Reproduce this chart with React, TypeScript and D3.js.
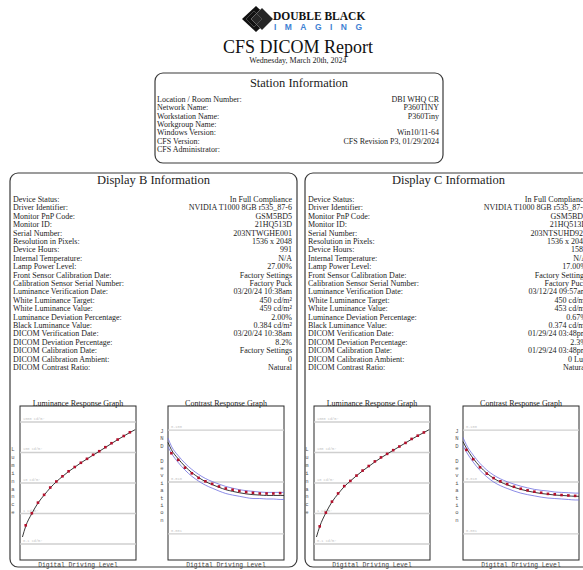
import React from 'react';
import * as d3 from 'd3';

const W = 583;
const H = 570;

const stationLabels = ['Location / Room Number:', 'Network Name:', 'Workstation Name:', 'Workgroup Name:', 'Windows Version:', 'CFS Version:', 'CFS Administrator:'];
const stationValues = ['DBI WHQ CR', 'P360TINY', 'P360Tiny', '', 'Win10/11-64', 'CFS Revision P3, 01/29/2024', ''];

const displayLabels = [
  'Device Status:', 'Driver Identifier:', 'Monitor PnP Code:', 'Monitor ID:', 'Serial Number:',
  'Resolution in Pixels:', 'Device Hours:', 'Internal Temperature:', 'Lamp Power Level:',
  'Front Sensor Calibration Date:', 'Calibration Sensor Serial Number:', 'Luminance Verification Date:',
  'White Luminance Target:', 'White Luminance Value:', 'Luminance Deviation Percentage:',
  'Black Luminance Value:', 'DICOM Verification Date:', 'DICOM Deviation Percentage:',
  'DICOM Calibration Date:', 'DICOM Calibration Ambient:', 'DICOM Contrast Ratio:'
];
const displayBValues = [
  'In Full Compliance', 'NVIDIA T1000 8GB r535_87-6', 'GSM5BD5', '21HQ513D', '203NTWGHE001',
  '1536 x 2048', '991', 'N/A', '27.00%', 'Factory Settings', 'Factory Puck', '03/20/24 10:38am',
  '450 cd/m²', '459 cd/m²', '2.00%', '0.384 cd/m²', '03/20/24 10:38am', '8.2%',
  'Factory Settings', '0', 'Natural'
];
const displayCValues = [
  'In Full Compliance', 'NVIDIA T1000 8GB r535_87-6', 'GSM5BD5', '21HQ513D', '203NTSUHD921',
  '1536 x 2048', '1581', 'N/A', '17.00%', 'Factory Settings', 'Factory Puck', '03/12/24 09:57am',
  '450 cd/m²', '453 cd/m²', '0.67%', '0.374 cd/m²', '01/29/24 03:48pm', '2.3%',
  '01/29/24 03:48pm', '0 Lux', 'Natural'
];

// Luminance response (cd/m²) at digital driving levels
const lumDDL = [0, 15, 30, 45, 60, 75, 90, 105, 120, 135, 150, 165, 180, 195, 210, 225, 240, 255];
const lumMeasuredB = [0.41, 1.02, 2.27, 4.1, 7.1, 11.2, 16.6, 24.2, 33.4, 46, 62, 84, 110, 149, 201, 265, 347, 459];
const lumMeasuredC = [0.38, 1.07, 2.45, 4.56, 7.9, 11.7, 17.5, 25.5, 36, 51, 69, 90, 119, 157, 206, 278, 355, 453];
// target curve (slightly extended at both ends)
const lumTargetDDL = [-8, 0, 15, 30, 45, 60, 75, 90, 105, 120, 135, 150, 165, 180, 195, 210, 225, 240, 255, 268];
const lumTargetB = [0.17, 0.384, 1.0, 2.2, 4.0, 6.9, 11.0, 16.4, 23.8, 33.0, 45.5, 61.5, 82, 109, 146, 197, 262, 345, 450, 560];
const lumTargetC = [0.17, 0.374, 1.05, 2.4, 4.4, 7.6, 11.6, 17.3, 25, 35, 49, 67, 89, 118, 156, 205, 272, 352, 450, 560];
const lumGridValues = [1000, 100, 10, 1, 0.1];
const lumGridLabels = ['1000 cd/m²', '100 cd/m²', '10 cd/m²', '1 cd/m²', '0.1 cd/m²'];

// Contrast response (JND deviation) at interval midpoints
const conDDL = [7.5, 22.5, 37.5, 52.5, 67.5, 82.5, 97.5, 112.5, 127.5, 142.5, 157.5, 172.5, 187.5, 202.5, 217.5, 232.5, 247.5];
const conMeasuredB = [0.0359, 0.0267, 0.0189, 0.0147, 0.0120, 0.0103, 0.0092, 0.0082, 0.0075, 0.0071, 0.0067, 0.0064, 0.0062, 0.0060, 0.0060, 0.0060, 0.0061];
const conMeasuredC = [0.0416, 0.0275, 0.0192, 0.0145, 0.0119, 0.0103, 0.0091, 0.0081, 0.0074, 0.0069, 0.0065, 0.0062, 0.0059, 0.0058, 0.0056, 0.0055, 0.0054];
// target and tolerance curves, spanning the full axis
const conLineDDL = [0, 7.5, 22.5, 37.5, 52.5, 67.5, 82.5, 97.5, 112.5, 127.5, 142.5, 157.5, 172.5, 187.5, 202.5, 217.5, 232.5, 247.5, 256];
const conTargetB = [0.058, 0.042, 0.0280, 0.0200, 0.0152, 0.0122, 0.0102, 0.0089, 0.0079, 0.0071, 0.0066, 0.0062, 0.0059, 0.0057, 0.0056, 0.0055, 0.0055, 0.0055, 0.0055];
const conUpperB = [0.070, 0.049, 0.0322, 0.0230, 0.0175, 0.0140, 0.0117, 0.0102, 0.0091, 0.0082, 0.0076, 0.0071, 0.0068, 0.0066, 0.0064, 0.0063, 0.0063, 0.0063, 0.0063];
const conLowerB = [0.048, 0.036, 0.0238, 0.0170, 0.0129, 0.0104, 0.0087, 0.0076, 0.0067, 0.0060, 0.0056, 0.0053, 0.0050, 0.0048, 0.0048, 0.0047, 0.0047, 0.0046, 0.0046];
const conTargetC = [0.060, 0.045, 0.0285, 0.0198, 0.0148, 0.0118, 0.0100, 0.0088, 0.0079, 0.0072, 0.0067, 0.0063, 0.0060, 0.0058, 0.0056, 0.0055, 0.0054, 0.0053, 0.0053];
const conUpperC = [0.072, 0.052, 0.0330, 0.0228, 0.0170, 0.0136, 0.0115, 0.0101, 0.0091, 0.0083, 0.0077, 0.0072, 0.0069, 0.0067, 0.0064, 0.0063, 0.0062, 0.0061, 0.0061];
const conLowerC = [0.050, 0.038, 0.0242, 0.0168, 0.0126, 0.0100, 0.0085, 0.0075, 0.0067, 0.0061, 0.0057, 0.0054, 0.0051, 0.0049, 0.0048, 0.0047, 0.0046, 0.0045, 0.0045];
const conGridValues = [0.1, 0.01, 0.001];
const conGridLabels = ['0.100', '0.010', '0.001'];

const SERIF = '"Liberation Serif", "Times New Roman", serif';
const MONO = '"Liberation Mono", "DejaVu Sans Mono", monospace';
const SANS = '"Liberation Sans", Arial, sans-serif';
const TXT = '#1c1c1c';

function VerticalLabel({ x, y0, step, text }: { x: number; y0: number; step: number; text: string }) {
  return (
    <g>
      {text.split('').map((ch, i) => (
        <text key={i} x={x} y={y0 + i * step} fontFamily={MONO} fontSize={5.5} fill="#555" textAnchor="middle">{ch}</text>
      ))}
    </g>
  );
}

function LumChart({ x0, y0, w, h, measured, target }: any) {
  const x = d3.scaleLinear().domain([-14, 270]).range([x0, x0 + w]);
  const y = d3.scaleLog().domain([0.03, 3333]).range([y0 + h, y0]);
  const line = d3.line<number>().x((_, i) => x(lumTargetDDL[i])).y(d => y(d)).curve(d3.curveMonotoneX);
  return (
    <g>
      <rect x={x0} y={y0} width={w} height={h} fill="white" stroke="#2a2a2a" strokeWidth={1} />
      {lumGridValues.map((v, i) => (
        <g key={i}>
          <line x1={x0} x2={x0 + w} y1={y(v)} y2={y(v)} stroke="#cfcfcf" strokeWidth={1.4} />
          <text x={x0 + 3} y={y(v) - 2} fontFamily={MONO} fontSize={3.6} fill="#c4c4c4">{lumGridLabels[i]}</text>
        </g>
      ))}
      <path d={line(target) || ''} fill="none" stroke="#222" strokeWidth={0.9} />
      {measured.map((v: number, i: number) => (
        <rect key={i} x={x(lumDDL[i]) - 1.3} y={y(v) - 1.3} width={2.6} height={2.6} fill="#b3102c" />
      ))}
      <text x={x0 + w / 2} y={y0 - 0.5} fontFamily={SERIF} fontSize={8} fill={TXT} textAnchor="middle">Luminance Response Graph</text>
      <VerticalLabel x={x0 - 7} y0={451} step={7.9} text="Luminance" />
      <text x={x0 + w / 2} y={y0 + h + 7} fontFamily={MONO} fontSize={6.3} fill="#444" textAnchor="middle">Digital Driving Level</text>
    </g>
  );
}

function ConChart({ x0, y0, w, h, measured, target, upper, lower }: any) {
  const x = d3.scaleLinear().domain([0, 256]).range([x0, x0 + w]);
  const y = d3.scaleLog().domain([0.000313, 0.292]).range([y0 + h, y0]);
  const line = d3.line<number>().x((_, i) => x(conLineDDL[i])).y(d => y(d)).curve(d3.curveMonotoneX);
  return (
    <g>
      <rect x={x0} y={y0} width={w} height={h} fill="white" stroke="#2a2a2a" strokeWidth={1} />
      {conGridValues.map((v, i) => (
        <g key={i}>
          <line x1={x0} x2={x0 + w} y1={y(v)} y2={y(v)} stroke="#cfcfcf" strokeWidth={1.4} />
          <text x={x0 + 3} y={y(v) - 2} fontFamily={MONO} fontSize={3.6} fill="#c4c4c4">{conGridLabels[i]}</text>
        </g>
      ))}
      <path d={line(upper) || ''} fill="none" stroke="#6f6fe0" strokeWidth={0.8} />
      <path d={line(lower) || ''} fill="none" stroke="#6f6fe0" strokeWidth={0.8} />
      <path d={line(target) || ''} fill="none" stroke="#222" strokeWidth={0.9} />
      {measured.map((v: number, i: number) => (
        <rect key={i} x={x(conDDL[i]) - 1.3} y={y(v) - 1.3} width={2.6} height={2.6} fill="#b3102c" />
      ))}
      <text x={x0 + w / 2} y={y0 - 0.5} fontFamily={SERIF} fontSize={8} fill={TXT} textAnchor="middle">Contrast Response Graph</text>
      <VerticalLabel x={x0 - 6} y0={433} step={7.4} text="JND Deviation" />
      <text x={x0 + w / 2} y={y0 + h + 7} fontFamily={MONO} fontSize={6.3} fill="#444" textAnchor="middle">Digital Driving Level</text>
    </g>
  );
}

function DisplayPanel({ bx, title, values }: { bx: number; title: string; values: string[] }) {
  const bw = 287;
  const top = 173;
  const rowY = d3.scaleLinear().domain([0, 1]).range([202, 210.4]);
  return (
    <g>
      <rect x={bx} y={top} width={bw} height={567 - top} rx={8} fill="none" stroke="#3a3a3a" strokeWidth={1.2} />
      <text x={bx + bw / 2} y={184} fontFamily={SERIF} fontSize={12.5} fill={TXT} textAnchor="middle">{title}</text>
      {displayLabels.map((l, i) => (
        <g key={i}>
          <text x={bx + 3} y={rowY(i)} fontFamily={SERIF} fontSize={8} fill={TXT}>{l}</text>
          <text x={bx + bw - 5} y={rowY(i)} fontFamily={SERIF} fontSize={8} fill={TXT} textAnchor="end">{values[i]}</text>
        </g>
      ))}
    </g>
  );
}

export default function App() {
  const stRow = d3.scaleLinear().domain([0, 1]).range([102, 110.3]);
  return (
    <svg width={W} height={H} style={{ position: 'absolute', left: 0, top: 0, background: 'white' }}>
      <rect width={W} height={H} fill="white" />
      {/* logo */}
      <g>
        <polygon points="256,6 270,19 256,32 242,19" fill="#111" />
        <polygon points="262,8 273,19 262,30 251,19" fill="#262626" stroke="#999" strokeWidth={0.6} />
        <polygon points="254,11 262,19 254,27 246,19" fill="none" stroke="#777" strokeWidth={0.5} />
        <text x={273} y={20} fontFamily={SERIF} fontSize={11.5} fontWeight="bold" fill="#111">DOUBLE BLACK</text>
        <text x={274} y={30} fontFamily={SANS} fontSize={8.5} fontWeight="bold" fill="#3f82d4" textLength={88} lengthAdjust="spacing">IMAGING</text>
      </g>
      <text x={298} y={53} fontFamily={SERIF} fontSize={18} fill="#111" textAnchor="middle">CFS DICOM Report</text>
      <text x={298} y={62.5} fontFamily={SERIF} fontSize={8} fill={TXT} textAnchor="middle">Wednesday, March 20th, 2024</text>

      {/* station */}
      <rect x={155} y={73} width={288} height={90} rx={8} fill="none" stroke="#3a3a3a" strokeWidth={1.2} />
      <text x={299} y={87} fontFamily={SERIF} fontSize={12.5} fill={TXT} textAnchor="middle">Station Information</text>
      {stationLabels.map((l, i) => (
        <g key={i}>
          <text x={157} y={stRow(i)} fontFamily={SERIF} fontSize={8} fill={TXT}>{l}</text>
          <text x={439} y={stRow(i)} fontFamily={SERIF} fontSize={8} fill={TXT} textAnchor="end">{stationValues[i]}</text>
        </g>
      ))}

      <DisplayPanel bx={10} title="Display B Information" values={displayBValues} />
      <DisplayPanel bx={305} title="Display C Information" values={displayCValues} />

      <LumChart x0={20} y0={406} w={116} h={154} measured={lumMeasuredB} target={lumTargetB} />
      <ConChart x0={168} y0={406} w={116} h={154} measured={conMeasuredB} target={conTargetB} upper={conUpperB} lower={conLowerB} />
      <LumChart x0={314} y0={406} w={116} h={154} measured={lumMeasuredC} target={lumTargetC} />
      <ConChart x0={463} y0={406} w={116} h={154} measured={conMeasuredC} target={conTargetC} upper={conUpperC} lower={conLowerC} />
    </svg>
  );
}
